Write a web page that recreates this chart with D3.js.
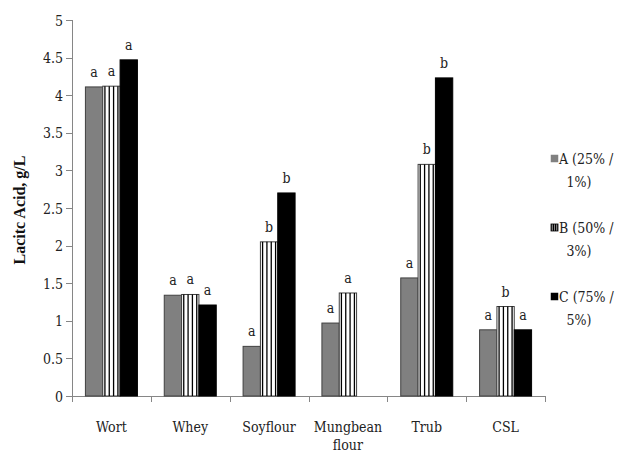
<!DOCTYPE html>
<html><head><meta charset="utf-8">
<script src="https://cdn.jsdelivr.net/npm/d3@7"></script>
<style>body{margin:0;background:#fff}svg{display:block}</style>
</head><body>
<script>
const categories = [["Wort"],["Whey"],["Soyflour"],["Mungbean","flour"],["Trub"],["CSL"]];
const seriesNames = [["A (25% /","1%)"],["B (50% /","3%)"],["C (75% /","5%)"]];
const seriesA = [4.11, 1.34, 0.66, 0.97, 1.57, 0.88];
const seriesB = [4.12, 1.35, 2.05, 1.37, 3.08, 1.19];
const seriesC = [4.47, 1.21, 2.70, 0, 4.23, 0.88];
const lettersA = ["a","a","a","a","a","a"];
const lettersB = ["a","a","b","a","b","b"];
const lettersC = ["a","a","b","","b","a"];
const yTicks = [0,0.5,1,1.5,2,2.5,3,3.5,4,4.5,5];
const yTitle = "Lacitc Acid, g/L";

const W=619,H=454;
const svg=d3.select("body").append("svg").attr("width",W).attr("height",H);
const font="'DejaVu Serif', serif";
svg.style("font-family",font).style("font-stretch","condensed");
const x0=d3.scaleBand().domain(d3.range(categories.length)).range([72,545]).paddingInner(0).paddingOuter(0);
const y=d3.scaleLinear().domain([0,5]).range([396,20]);
const gw=52;
const x1=d3.scaleBand().domain([0,1,2]).range([0,gw]);
const fs=14;

const axisCol="#868686";
svg.append("line").attr("x1",72.5).attr("x2",72.5).attr("y1",y(5)).attr("y2",y(0)).attr("stroke",axisCol);
yTicks.forEach(t=>{
  svg.append("line").attr("x1",66).attr("x2",72).attr("y1",Math.round(y(t))+0.5).attr("y2",Math.round(y(t))+0.5).attr("stroke",axisCol);
  svg.append("text").attr("x",63).attr("y",y(t)+5.5).attr("text-anchor","end").attr("font-size",fs).attr("fill","#222").text(t);
});
svg.append("line").attr("x1",72).attr("x2",545).attr("y1",396.5).attr("y2",396.5).attr("stroke",axisCol);
d3.range(categories.length+1).forEach(i=>{
  const xx=i<categories.length?x0(i):x0(categories.length-1)+x0.bandwidth();
  svg.append("line").attr("x1",Math.round(xx)+0.5).attr("x2",Math.round(xx)+0.5).attr("y1",396).attr("y2",402).attr("stroke",axisCol);
});
categories.forEach((c,i)=>{
  c.forEach((ln,j)=>{
    svg.append("text").attr("x",x0(i)+x0.bandwidth()/2).attr("y",432+j*18).attr("text-anchor","middle")
      .attr("font-size",fs).attr("fill","#222").text(ln);
  });
});
svg.append("text").attr("transform","translate(25,210) rotate(-90)").attr("text-anchor","middle")
  .style("font-family","'Liberation Serif', serif").style("font-stretch","normal")
  .attr("font-size",16).attr("font-weight","bold").attr("fill","#111").text(yTitle);

const series=[seriesA,seriesB,seriesC];
const letters=[lettersA,lettersB,lettersC];
const fills=["#808080","#fff","#000"];
function drawStripes(g,x,w,yt,h){
  const n=4;
  for(let k=0;k<n;k++){
    const lx=x+ (k+0.5)*w/n;
    g.append("line").attr("x1",lx).attr("x2",lx).attr("y1",yt).attr("y2",yt+h).attr("stroke","#000").attr("stroke-width",1.3);
  }
}
categories.forEach((c,i)=>{
  const gx=x0(i)+(x0.bandwidth()-gw)/2;
  series.forEach((s,k)=>{
    const v=s[i];
    const bx=gx+x1(k), bw=x1.bandwidth();
    if(v>0){
      const yt=y(v), h=y(0)-y(v);
      svg.append("rect").attr("x",bx).attr("y",yt).attr("width",bw).attr("height",h)
        .attr("fill",fills[k]).attr("stroke",k==2?"#000":"#404040").attr("stroke-width",1);
      if(k==1) drawStripes(svg,bx,bw,yt,h);
    }
    if(letters[k][i]) svg.append("text").attr("x",bx+bw/2).attr("y",y(v)-10).attr("text-anchor","middle")
      .attr("font-size",fs).attr("fill","#222").text(letters[k][i]);
  });
});

const ly=[159,228,297];
seriesNames.forEach((nm,k)=>{
  const g=svg.append("g");
  const sx=551, sy=ly[k]-4;
  g.append("rect").attr("x",sx).attr("y",sy).attr("width",7).attr("height",7)
    .attr("fill",fills[k]).attr("stroke",k==0?"#808080":"#000").attr("stroke-width",k==1?0.8:0.5);
  if(k==1) drawStripes(g,sx,7,sy,7);
  g.append("text").attr("x",559).attr("y",ly[k]+5).attr("font-size",fs).attr("fill","#222").text(nm[0]);
  g.append("text").attr("x",579).attr("y",ly[k]+28).attr("text-anchor","middle").attr("font-size",fs).attr("fill","#222").text(nm[1]);
});
</script>
</body></html>
